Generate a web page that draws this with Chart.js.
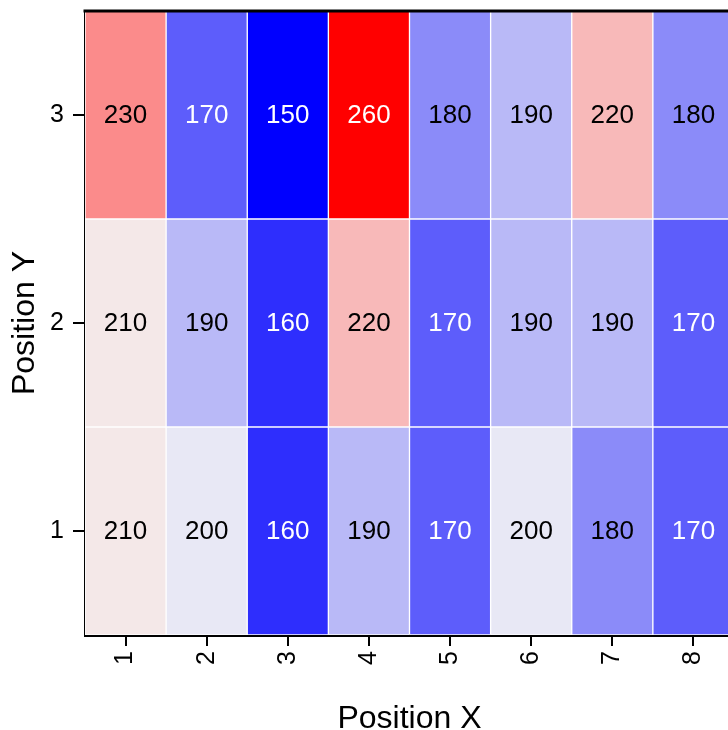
<!DOCTYPE html>
<html>
<head>
<meta charset="utf-8">
<script src="https://cdn.jsdelivr.net/npm/chart.js@4/dist/chart.umd.min.js"></script>
<style>
  html, body { margin: 0; padding: 0; background: #fff; overflow: hidden; }
  #wrap { width: 728px; height: 730px; overflow: hidden; }
</style>
</head>
<body>
<div id="wrap"><canvas id="c" width="734" height="730"></canvas></div>
<script>
// Grid positions along each axis
const xLabels = ['1', '2', '3', '4', '5', '6', '7', '8'];
const yRows = [1, 2, 3];

// Measured values per row (Position Y = 1, 2, 3), one entry per Position X
const row1 = [210, 200, 160, 190, 170, 200, 180, 170];
const row2 = [210, 190, 160, 220, 170, 190, 190, 170];
const row3 = [230, 170, 150, 260, 180, 190, 220, 180];
const rows = [row1, row2, row3];

// Diverging blue - near-white - red colour scale
const vMin = 150, vMid = 205, vMax = 260;
function cellColor(v) {
  if (v <= vMid) {
    const t = Math.min(1, (vMid - v) / (vMid - vMin));
    const c = Math.round(255 * (1 - t));
    const b = Math.round(255 - 11 * (1 - t));
    return `rgb(${c},${c},${b})`;
  }
  const t = Math.min(1, (v - vMid) / (vMax - vMid));
  const c = Math.round(255 * (1 - t));
  const r = Math.round(255 - 13 * (1 - t) * (1 - t));
  return `rgb(${r},${c},${c})`;
}
function textColor(v) {
  return Math.abs(v - vMid) > 30 ? '#ffffff' : '#000000';
}

const datasets = yRows.map((r, i) => ({
  label: 'Y' + r,
  values: rows[i],
  data: rows[i].map(() => [r - 0.5, r + 0.5]),
  backgroundColor: rows[i].map(cellColor),
  borderColor: '#ffffff',
  borderWidth: 1,
  borderSkipped: false,
  barPercentage: 1,
  categoryPercentage: 1,
  grouped: false
}));

const FONT = '"Liberation Sans", Arial, sans-serif';

const cellLabels = {
  id: 'cellLabels',
  afterDatasetsDraw(chart) {
    const ctx = chart.ctx;
    ctx.save();
    ctx.font = '26px ' + FONT;
    ctx.textAlign = 'center';
    ctx.textBaseline = 'middle';
    chart.data.datasets.forEach((ds, di) => {
      const meta = chart.getDatasetMeta(di);
      meta.data.forEach((el, i) => {
        const v = ds.values[i];
        ctx.fillStyle = textColor(v);
        ctx.fillText(String(v), el.x, (el.y + el.base) / 2 + 1);
      });
    });
    ctx.restore();
  }
};

const frameTop = {
  id: 'frameTop',
  afterDraw(chart) {
    const a = chart.chartArea;
    const ctx = chart.ctx;
    ctx.save();
    ctx.strokeStyle = '#000';
    ctx.lineWidth = 3;
    ctx.beginPath();
    ctx.moveTo(a.left - 1.5, a.top);
    ctx.lineTo(a.right + 2, a.top);
    ctx.stroke();
    ctx.restore();
  }
};

new Chart(document.getElementById('c'), {
  type: 'bar',
  data: { labels: xLabels, datasets },
  options: {
    responsive: false,
    animation: false,
    layout: { padding: { top: 11, right: 0, left: 0, bottom: 0 } },
    plugins: { legend: { display: false }, tooltip: { enabled: false } },
    scales: {
      x: {
        type: 'category',
        offset: true,
        grid: { offset: false, drawOnChartArea: false, drawTicks: true, tickLength: 11, color: '#000', lineWidth: 2 },
        border: { display: true, color: '#000', width: 3 },
        ticks: {
          color: '#000',
          font: { family: FONT, size: 25 },
          minRotation: 90, maxRotation: 90, padding: 5, autoSkip: false
        },
        title: {
          display: true, text: 'Position X', color: '#000',
          font: { family: FONT, size: 32, lineHeight: 0.68 },
          padding: { top: 0, bottom: 0 }
        },
        afterFit(scale) { scale.height = 95; scale.paddingLeft = 0; scale.paddingRight = 0; }
      },
      y: {
        type: 'linear',
        min: 0.5, max: 3.5,
        afterBuildTicks(scale) { scale.ticks = yRows.map(v => ({ value: v })); },
        grid: { drawOnChartArea: false, drawTicks: true, tickLength: 12, color: '#000', lineWidth: 2 },
        border: { display: true, color: '#000', width: 3 },
        ticks: {
          color: '#000',
          font: { family: FONT, size: 25 },
          padding: 9
        },
        title: {
          display: true, text: 'Position Y', color: '#000',
          font: { family: FONT, size: 32 },
          padding: { top: 6, bottom: 0 }
        },
        afterFit(scale) { scale.width = 85; scale.paddingTop = 0; scale.paddingBottom = 0; }
      }
    }
  },
  plugins: [cellLabels, frameTop]
});
</script>
</body>
</html>
